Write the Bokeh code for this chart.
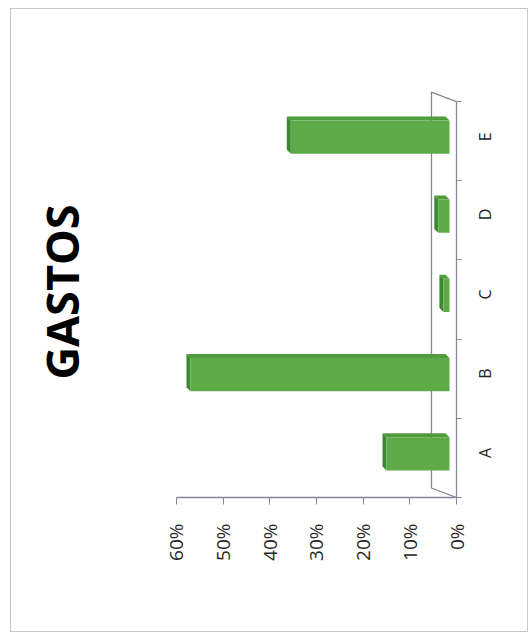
import numpy as np
from bokeh.plotting import figure
from bokeh.models import Range1d, FixedTicker, NumeralTickFormatter, LinearAxis
from bokeh.embed import file_html
from bokeh.resources import INLINE

# ---- data ----
categories = ["A", "B", "C", "D", "E"]
values = [0.135, 0.555, 0.013, 0.024, 0.34]
value_ticks = [0.0, 0.1, 0.2, 0.3, 0.4, 0.5, 0.6]
title_text = "GASTOS"

# ---- 3D styling constants (data units) ----
WALL_DX = 0.0536     # depth of floor/wall along value axis
WALL_DY = 0.12       # depth of floor/wall along category axis
BAR_BASE = 0.015     # bars start a bit behind the front axis
BAR_SHIFT = 0.052    # bars shifted by depth along category axis
BAR_H = 0.42
CAP_DX = 0.0086
CAP_DY = 0.05

FRONT = "#5faa48"
CAP = "#3c8a30"
TOP = "#4f9c3d"
AXIS = "#85859a"
TXT = "#262626"

n = len(categories)
ypos = np.arange(n) + 0.5 + BAR_SHIFT
vals = np.array(values)
left = BAR_BASE + vals
right = np.full(n, BAR_BASE)
top = ypos + BAR_H / 2
bot = ypos - BAR_H / 2

p = figure(width=518, height=624, output_backend="svg", toolbar_location=None,
           x_range=Range1d(0.7714, 0.0), y_range=Range1d(0.0, 5.19),
           x_axis_location=None, y_axis_location=None,
           min_border_left=85, min_border_right=73, min_border_top=77, min_border_bottom=136)
p.styles = {"border": "1px solid #c8c8c8", "margin-left": "10px", "margin-top": "8px"}
p.outline_line_color = None
p.background_fill_color = "white"
p.border_fill_color = "white"
p.xgrid.visible = False
p.ygrid.visible = False

p.title.text = title_text
p.title_location = "left"
p.title.align = "center"
p.title.text_font = "Open Sans"
p.title.text_font_style = "bold"
p.title.text_font_size = "45px"
p.title.text_color = "#000000"

# wall / floor outline
p.line(x=[0, WALL_DX, WALL_DX, 0], y=[0, WALL_DY, n + WALL_DY, n],
       line_color=AXIS, line_width=1.3)

# top faces (upper edge of each bar)
top_xs = [[l, l + CAP_DX, r + CAP_DX, r] for l, r in zip(left, right)]
top_ys = [[t, t + CAP_DY, t + CAP_DY, t] for t in top]
p.patches(top_xs, top_ys, fill_color=TOP, line_color=None)
# end caps (left end of each bar)
cap_xs = [[l, l + CAP_DX, l + CAP_DX, l] for l in left]
cap_ys = [[t, t + CAP_DY, b + CAP_DY, b] for t, b in zip(top, bot)]
p.patches(cap_xs, cap_ys, fill_color=CAP, line_color=None)
# front faces
p.hbar(y=ypos, height=BAR_H, left=left, right=right, fill_color=FRONT, line_color=None)

# value axis (bottom)
xa = LinearAxis(ticker=FixedTicker(ticks=value_ticks, minor_ticks=[]),
                formatter=NumeralTickFormatter(format="0%"), bounds=(0, 0.6))
xa.major_label_orientation = np.pi / 2
xa.axis_line_color = AXIS
xa.axis_line_width = 1.3
xa.major_tick_line_color = AXIS
xa.major_tick_in = 0
xa.major_tick_out = 7
xa.minor_tick_line_color = None
xa.major_label_standoff = 19
xa.major_label_text_font = "Open Sans"
xa.major_label_text_font_size = "19px"
xa.major_label_text_color = TXT
p.add_layout(xa, "below")

# category axis (right)
centers = [i + 0.5 for i in range(n)]
ya = LinearAxis(ticker=FixedTicker(ticks=centers, minor_ticks=list(range(n + 1))), bounds=(0, n))
ya.major_label_overrides = {c: lab for c, lab in zip(centers, categories)}
ya.major_label_orientation = np.pi / 2
ya.axis_line_color = AXIS
ya.axis_line_width = 1.3
ya.major_tick_line_color = None
ya.minor_tick_line_color = AXIS
ya.minor_tick_in = 0
ya.minor_tick_out = 5
ya.major_label_standoff = 23
ya.major_label_text_font = "Open Sans"
ya.major_label_text_font_size = "16px"
ya.major_label_text_color = TXT
p.add_layout(ya, "right")

open("out.html", "w").write(file_html(p, INLINE))
